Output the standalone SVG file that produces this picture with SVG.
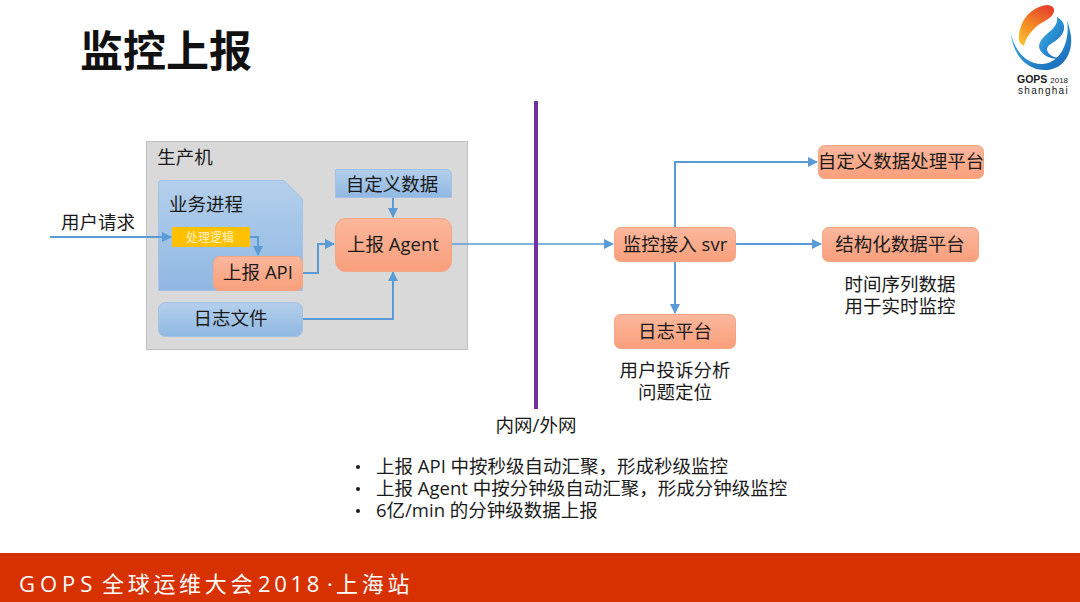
<svg xmlns="http://www.w3.org/2000/svg" width="1080" height="602" viewBox="0 0 1080 602">
<defs>
<linearGradient id="orange" x1="0" y1="0" x2="0" y2="1"><stop offset="0" stop-color="#fbb79c"/><stop offset="1" stop-color="#f99f7c"/></linearGradient>
<linearGradient id="blue" x1="0" y1="0" x2="0" y2="1"><stop offset="0" stop-color="#b4cfec"/><stop offset="1" stop-color="#8fb8e2"/></linearGradient>
<linearGradient id="logoWarm" x1="0.7" y1="0" x2="0.2" y2="1"><stop offset="0" stop-color="#e5432d"/><stop offset="0.55" stop-color="#f58a24"/><stop offset="1" stop-color="#fbc02d"/></linearGradient>
<linearGradient id="logoBlue" x1="0" y1="0" x2="1" y2="1"><stop offset="0" stop-color="#3fb6ee"/><stop offset="1" stop-color="#1565b5"/></linearGradient>
<marker id="arrow" viewBox="0 0 10 10" refX="9" refY="5" markerWidth="10" markerHeight="10" markerUnits="userSpaceOnUse" orient="auto"><path d="M0 0L10 5L0 10Z" fill="#5b9bd5"/></marker>
</defs>
<style>
text{font-family:"Open Sans","Noto Sans CJK SC",sans-serif;fill:#1a1a1a;font-size:18.500px;text-anchor:middle}
.o{fill:url(#orange);stroke:#f4a582;stroke-width:1}
.b{fill:url(#blue);stroke:#a3c2e4;stroke-width:1}
.c{fill:none;stroke:#5b9bd5;stroke-width:2}
.a{marker-end:url(#arrow)}
.l{text-anchor:start}
</style>
<rect width="1080" height="602" fill="#fff"/>
<text id="title" x="80" y="67" class="l" style="font-size:43px;font-weight:700;fill:#111">监控上报</text>

<g id="logo">
<path d="M1011 33C1012 52 1025 70 1045 70C1062 70 1073 55 1071 36C1070 30 1069 26 1067 20C1070 38 1063 62 1043 64C1026 65 1014 50 1011 33Z" fill="url(#logoBlue)"/>
<path d="M1019 41C1018 22 1030 7 1047 5C1053 5 1056 9 1053 14C1050 20 1040 22 1034 29C1029 34 1026 38 1024 46C1022 45 1020 43 1019 41Z" fill="url(#logoWarm)"/>
<path d="M1057 17C1066 22 1066 30 1060 37C1053 44 1047 44 1047 50C1048 54 1053 58 1060 58C1056 60 1045 58 1040 50C1037 44 1042 38 1048 33C1054 28 1058 24 1057 17Z" fill="url(#logoBlue)"/>
<text x="1017" y="83" class="l" style="font-size:10.500px;font-weight:700;font-family:'Liberation Sans',sans-serif">GOPS <tspan style="font-size:8px;font-weight:400">2018</tspan></text>
<text x="1018" y="94" class="l" style="font-size:10px;letter-spacing:1.300px;font-family:'Liberation Sans',sans-serif">shanghai</text>
</g>

<g id="host"><rect x="146.500" y="141.500" width="321" height="208" fill="#d9d9d9" stroke="#bfbfbf"/><text x="185" y="164">生产机</text></g>
<g id="process"><path class="b" d="M158.500 183Q158.500 180.500 161 180.500H284L302.500 199V290.500H158.500Z"/><text x="206" y="211">业务进程</text></g>

<g id="connectors">
<path class="c a" d="M50 237H171"/>
<path class="c a" d="M250 237H258V255"/>
<path class="c a" d="M303 273H318V244H334"/>
<path class="c a" d="M393 198V217"/>
<path class="c a" d="M303 319H393V272"/>
<path class="c" style="stroke-width:1.500" d="M452 244H536"/>
<path class="c a" style="stroke-width:1.500" d="M536 244H613"/>
<path class="c a" d="M675 227V162H817"/>
<path class="c a" d="M736 244H821"/>
<path class="c a" d="M675 262V313"/>
</g>

<g id="logic"><rect x="172" y="227" width="78" height="20" fill="#ffc000"/><text x="210" y="242" style="font-size:12px;fill:#fff3c8">处理逻辑</text></g>
<g id="report-api"><rect class="o" x="213.500" y="256.500" width="89" height="34" rx="6"/><text x="258" y="279">上报 API</text></g>
<g id="log-file"><rect class="b" x="158.500" y="302.500" width="144" height="34" rx="7"/><text x="230.500" y="325">日志文件</text></g>
<g id="custom-data"><path class="b" d="M335.500 169.500H446Q451.500 169.500 451.500 175V197.500H335.500Z"/><text x="392" y="191">自定义数据</text></g>
<g id="agent"><rect class="o" x="335.500" y="218.500" width="116" height="53" rx="10"/><text x="393" y="251">上报 Agent</text></g>
<g id="svr"><rect class="o" x="614.500" y="227.500" width="121" height="34" rx="6"/><text x="675" y="251">监控接入 svr</text></g>
<g id="log-platform"><rect class="o" x="614.500" y="314.500" width="121" height="34" rx="6"/><text x="675" y="338">日志平台</text></g>
<g id="custom-platform"><rect class="o" x="818.500" y="145.500" width="165" height="33" rx="6"/><text x="901" y="168">自定义数据处理平台</text></g>
<g id="struct-platform"><rect class="o" x="822.500" y="227.500" width="156" height="34" rx="6"/><text x="900" y="251">结构化数据平台</text></g>

<g id="divider"><path d="M536 101V409" stroke="#7030a0" stroke-width="4" fill="none"/><text x="536" y="432">内网/外网</text></g>

<text x="61" y="229" class="l">用户请求</text>
<text x="900" y="291">时间序列数据</text>
<text x="900" y="313">用于实时监控</text>
<text x="675" y="377">用户投诉分析</text>
<text x="675" y="399">问题定位</text>

<g id="notes">
<circle cx="358" cy="467" r="2" fill="#1a1a1a"/><text x="376" y="473" class="l">上报 API 中按秒级自动汇聚，形成秒级监控</text>
<circle cx="358" cy="489" r="2" fill="#1a1a1a"/><text x="376" y="495" class="l">上报 Agent 中按分钟级自动汇聚，形成分钟级监控</text>
<circle cx="358" cy="511" r="2" fill="#1a1a1a"/><text x="376" y="517" class="l">6亿/min 的分钟级数据上报</text>
</g>

<g id="footer"><rect y="553" width="1080" height="49" fill="#d83100"/><text y="592" class="l" style="font-size:22px;letter-spacing:3.700px;fill:#fff"><tspan x="19" style="letter-spacing:5px">GOPS</tspan><tspan x="102">全球运维大会</tspan><tspan x="258">2018</tspan><tspan x="327">·</tspan><tspan x="336">上海站</tspan></text></g>
</svg>
